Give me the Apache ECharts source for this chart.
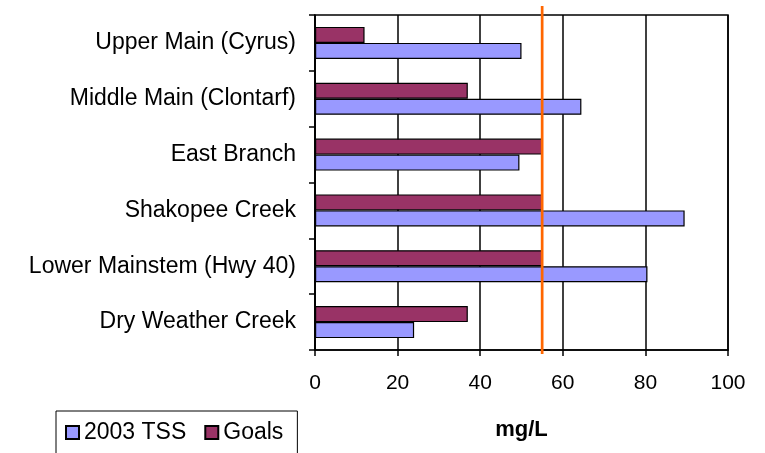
<!DOCTYPE html>
<html>
<head>
<meta charset="utf-8">
<script src="https://cdn.jsdelivr.net/npm/echarts@6/dist/echarts.min.js"></script>
<style>
  html, body { margin: 0; padding: 0; background: #fff; }
  #chart { width: 765px; height: 453px; }
</style>
</head>
<body>
<div id="chart"></div>
<script>
// Sampling sites, top to bottom
const sites = ['Upper Main (Cyrus)', 'Middle Main (Clontarf)', 'East Branch', 'Shakopee Creek', 'Lower Mainstem (Hwy 40)', 'Dry Weather Creek'];
// Total suspended solids measured in 2003 (mg/L)
const tss2003 = [50, 64.5, 49.5, 89.5, 80.5, 24];
// Target concentrations (mg/L)
const goals = [12, 37, 55, 55, 55, 37];
// Reference standard drawn as a vertical line (mg/L)
const standardLine = [55];
// Value-axis ticks
const xTicks = [0, 20, 40, 60, 80, 100];

const FONT = 'Liberation Sans, Arial, sans-serif';
const chart = echarts.init(document.getElementById('chart'), null, { renderer: 'canvas' });

const option = {
  backgroundColor: '#fff',
  animation: false,
  textStyle: { fontFamily: FONT, color: '#000' },
  grid: [
    { left: 315, right: 37, top: 15, bottom: 103, show: true, borderColor: '#000', borderWidth: 1.5 },
    { left: 315, right: 37, top: 6, bottom: 99 }
  ],
  legend: {
    data: ['2003 TSS', 'Goals'],
    left: 56, top: 411,
    orient: 'horizontal',
    icon: 'rect',
    itemWidth: 13, itemHeight: 13, itemGap: 18,
    padding: [10, 14, 30, 9],
    borderColor: '#000', borderWidth: 1,
    textStyle: { fontFamily: FONT, fontSize: 23, color: '#000' }
  },
  xAxis: [
    {
      gridIndex: 0, type: 'value',
      min: xTicks[0], max: xTicks[xTicks.length - 1], interval: xTicks[1] - xTicks[0],
      name: 'mg/L', nameLocation: 'middle', nameGap: 69,
      nameTextStyle: { fontFamily: FONT, fontSize: 22, fontWeight: 'bold', color: '#000' },
      axisLine: { show: true, lineStyle: { color: '#000', width: 1.5 } },
      axisTick: { show: true, length: 6, lineStyle: { color: '#000', width: 1.5 } },
      axisLabel: { fontFamily: FONT, fontSize: 21, color: '#000', margin: 23 },
      splitLine: { show: true, lineStyle: { color: '#000', width: 1.5 } }
    },
    { gridIndex: 1, type: 'value', min: 0, max: 100, show: false }
  ],
  yAxis: [
    {
      gridIndex: 0, type: 'category', data: sites, inverse: true,
      axisLine: { show: true, lineStyle: { color: '#000', width: 1.5 } },
      axisTick: { show: true, length: 6, lineStyle: { color: '#000', width: 1.5 } },
      axisLabel: { fontFamily: FONT, fontSize: 23, color: '#000', margin: 19 },
      splitLine: { show: false }
    },
    { gridIndex: 1, type: 'value', min: 0, max: 1, show: false }
  ],
  series: [
    {
      name: 'Goals', type: 'bar', xAxisIndex: 0, yAxisIndex: 0,
      data: goals, barWidth: 16, barGap: '0%',
      itemStyle: { color: '#993366', borderColor: '#000', borderWidth: 1.2 }
    },
    {
      name: '2003 TSS', type: 'bar', xAxisIndex: 0, yAxisIndex: 0,
      data: tss2003, barWidth: 16, barGap: '0%',
      itemStyle: { color: '#9999FF', borderColor: '#000', borderWidth: 1.2 }
    },
    {
      name: 'Standard', type: 'line', xAxisIndex: 1, yAxisIndex: 1,
      data: [[standardLine[0], 0], [standardLine[0], 1]],
      symbol: 'none', silent: true,
      lineStyle: { color: '#FF6600', width: 2.7 }
    }
  ]
};
chart.setOption(option);
</script>
</body>
</html>
